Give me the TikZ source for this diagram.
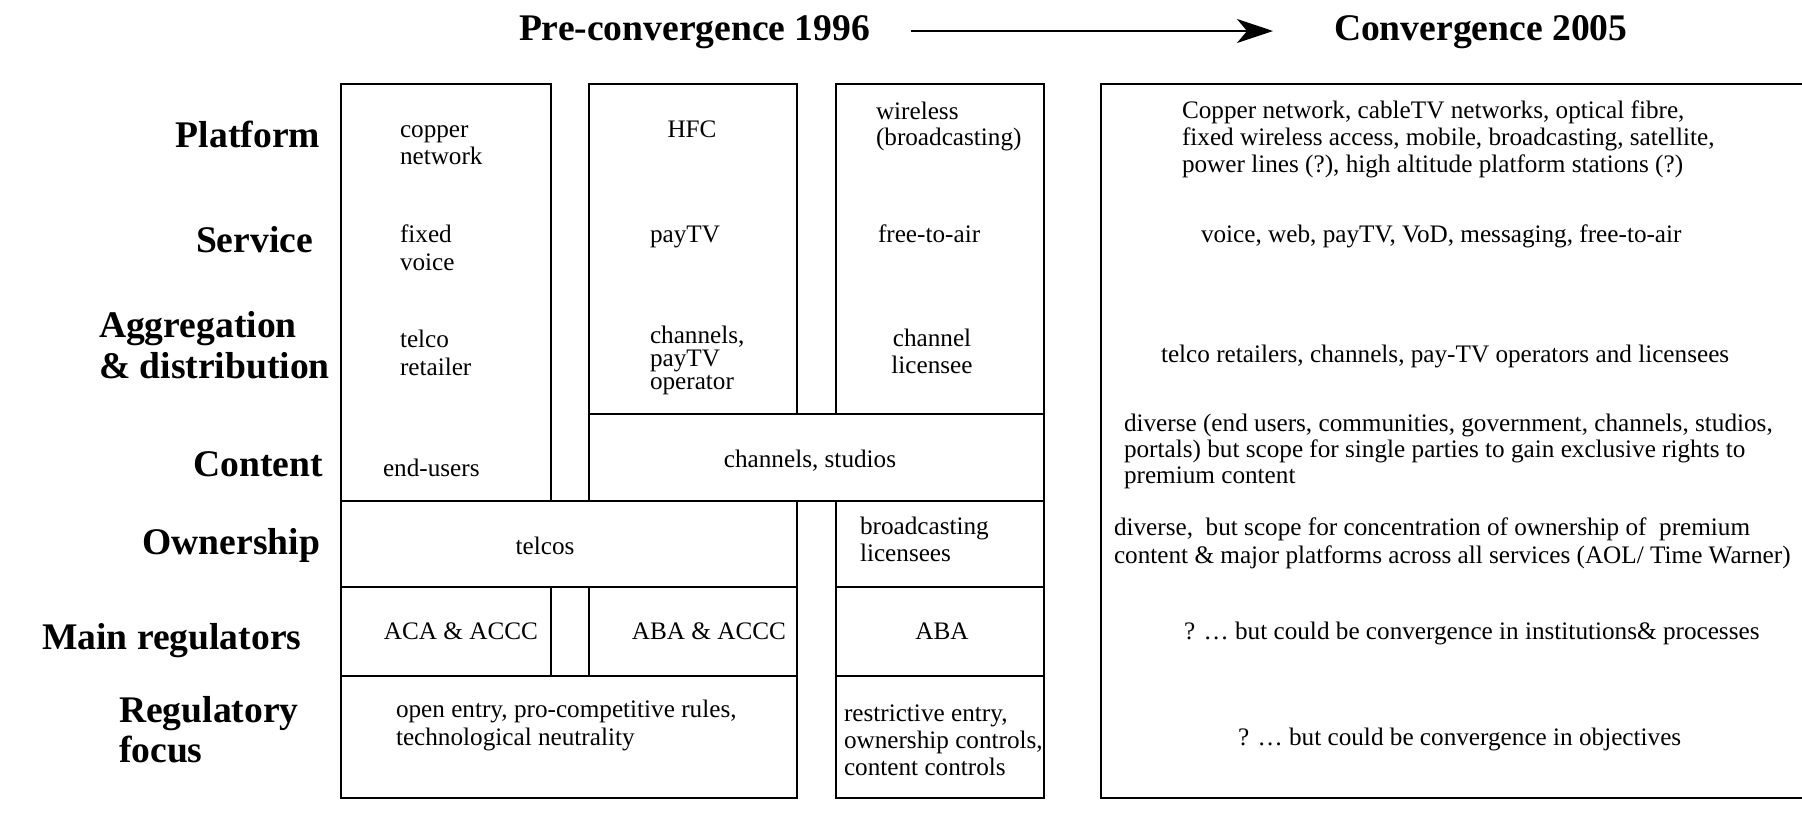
\documentclass[tikz,border=0pt]{standalone}
\usepackage{fontspec}
\setmainfont{Liberation Serif}
\usetikzlibrary{arrows.meta}
\newcommand\mlines[3]{\fontsize{12.6}{#1}\selectfont\begin{tabular}[t]{@{}#2@{}}#3\end{tabular}}
\newcommand\blines[2]{\bfseries\fontsize{18.8}{#1}\selectfont\begin{tabular}[t]{@{}l@{}}#2\end{tabular}}
\begin{document}
\begin{tikzpicture}[x=0.5pt,y=-0.5pt,
  txt/.style={inner sep=0pt, outer sep=0pt, font=\fontsize{12.6}{14}\selectfont},
  lbl/.style={inner sep=0pt, outer sep=0pt, font=\bfseries\fontsize{18.8}{20}\selectfont},
  cell/.style={line width=1.4pt},
  bw/.style={anchor=base west},
  be/.style={anchor=base east},
  bc/.style={anchor=base},
]
\useasboundingbox (0,0) rectangle (1802,821);

% titles and arrow
\node[lbl,bw] (t1) at (519,40) {Pre-convergence 1996};
\node[lbl,bw] (t2) at (1334,40) {Convergence 2005};
\coordinate (arrS) at (911,31);
\coordinate (arrE) at (1273,31);
\draw[line width=1.3pt,-{Stealth[length=18pt,width=12pt,inset=5pt]}] (arrS) -- (arrE);

% row labels
\node[lbl,be] (lPlat) at (320,147) {Platform};
\node[lbl,be] (lServ) at (313,252) {Service};
\node[lbl,bw] (lAgg) at (99,337) {\blines{20.5pt}{Aggregation\\ \& distribution}};
\node[lbl,be] (lCont) at (323,476) {Content};
\node[lbl,be] (lOwn) at (320,554) {Ownership};
\node[lbl,bw] (lReg) at (42,649) {Main regulators};
\node[lbl,bw] (lFoc) at (119,722) {\blines{20pt}{Regulatory\\ focus}};

% boxes (pre-convergence)
\draw[cell] (341,84) rectangle (551,501);
\draw[cell] (589,84) rectangle (797,414);
\draw[cell] (836,84) rectangle (1044,414);
\draw[cell] (589,414) rectangle (1044,501);
\draw[cell] (341,501) rectangle (797,587);
\draw[cell] (836,501) rectangle (1044,587);
\draw[cell] (341,587) rectangle (551,676);
\draw[cell] (589,587) rectangle (797,676);
\draw[cell] (836,587) rectangle (1044,676);
\draw[cell] (341,676) rectangle (797,798);
\draw[cell] (836,676) rectangle (1044,798);
% convergence box
\draw[cell] (1802,84) -- (1101,84) -- (1101,798) -- (1802,798);

% column A texts
\node[txt,bw] (a1) at (400,137) {\mlines{13.5pt}{l}{copper\\ network}};
\node[txt,bw] (a2) at (400,242) {\mlines{14pt}{l}{fixed\\ voice}};
\node[txt,bw] (a3) at (400,347) {\mlines{14pt}{l}{telco\\ retailer}};
\node[txt,bw] (a4) at (383,476) {end-users};

% column B texts
\node[txt,bc] (b1) at (692,137) {HFC};
\node[txt,bw] (b2) at (650,242) {payTV};
\node[txt,bw] (b3) at (650,343) {\mlines{11.5pt}{l}{channels,\\ payTV\\ operator}};

% column C texts
\node[txt,bw] (c1) at (876,119) {\mlines{13pt}{l}{wireless\\ (broadcasting)}};
\node[txt,bw] (c2) at (878,242) {free-to-air};
\node[txt,bc] (c3) at (932,346) {\mlines{13.5pt}{c}{channel\\ licensee}};

\node[txt,bc] (bc4) at (810,467) {channels, studios};
\node[txt,bc] (ab5) at (545,554) {telcos};
\node[txt,bw] (c5) at (860,534) {\mlines{13.5pt}{l}{broadcasting\\ licensees}};
\node[txt,bc] (a6) at (461,639) {ACA \& ACCC};
\node[txt,bc] (b6) at (709,639) {ABA \& ACCC};
\node[txt,bc] (c6) at (942,639) {ABA};
\node[txt,bw] (ab7) at (396,717) {\mlines{14pt}{l}{open entry, pro-competitive rules,\\ technological neutrality}};
\node[txt,bw] (c7) at (844,721) {\mlines{13.5pt}{l}{restrictive entry,\\ ownership controls,\\ content controls}};

% convergence texts
\node[txt,bw] (r1) at (1182,118) {\mlines{13.5pt}{l}{Copper network, cableTV networks, optical fibre,\\ fixed wireless access, mobile, broadcasting, satellite,\\ power lines (?), high altitude platform stations (?)}};
\node[txt,bw] (r2) at (1201,242) {voice, web, payTV, VoD, messaging, free-to-air};
\node[txt,bw] (r3) at (1161,362) {telco retailers, channels, pay-TV operators and licensees};
\node[txt,bw] (r4) at (1124,431) {\mlines{13pt}{l}{diverse (end users, communities, government, channels, studios,\\ portals) but scope for single parties to gain exclusive rights to\\ premium content}};
\node[txt,bw] (r5) at (1114,535) {\mlines{14pt}{l}{diverse,\ \ but scope for concentration of ownership of\ \ premium\\ content \& major platforms across all services (AOL/ Time Warner)}};
\node[txt,bw] (r6) at (1184,639) {? \dots\ but could be convergence in institutions\& processes};
\node[txt,bw] (r7) at (1238,745) {? \dots\ but could be convergence in objectives};
\end{tikzpicture}
\end{document}
